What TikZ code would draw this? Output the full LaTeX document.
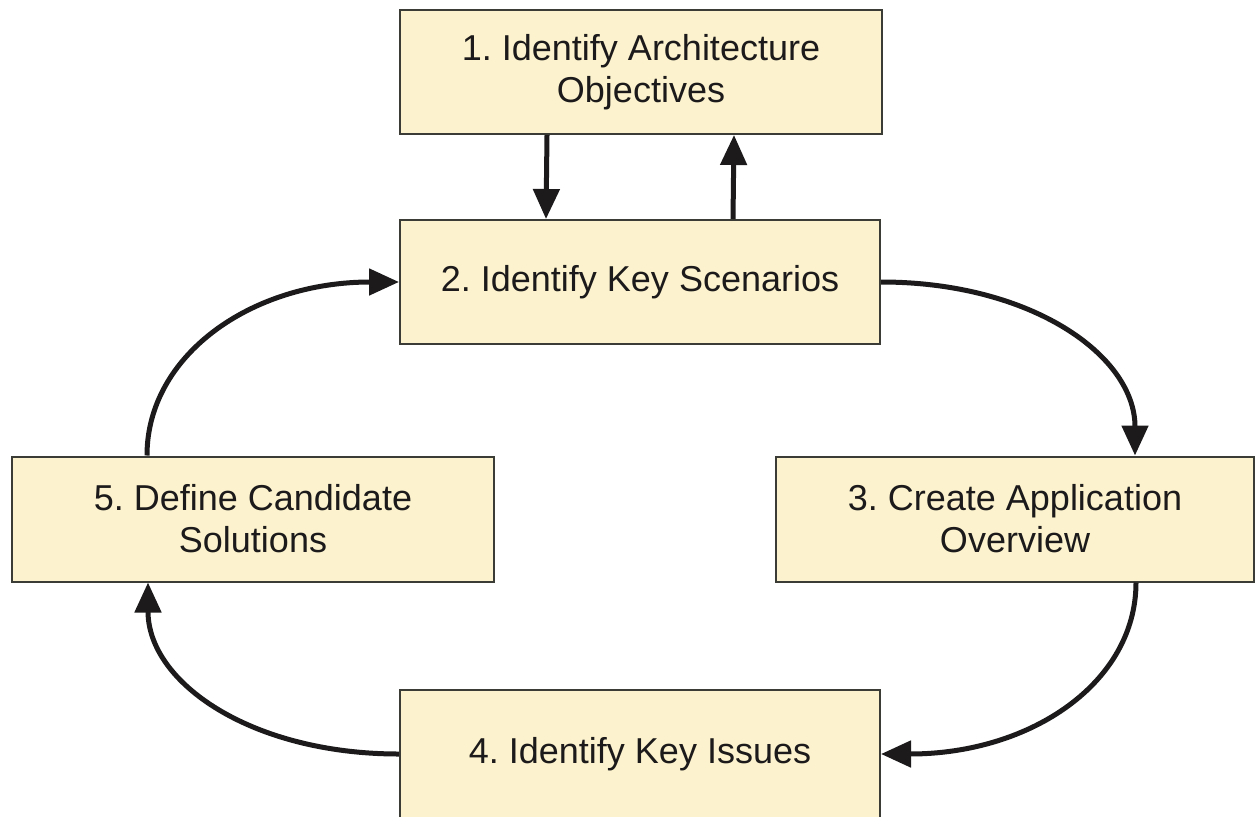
\documentclass[tikz,border=0pt]{standalone}
\usepackage{fontspec}
\setmainfont{Liberation Sans}
\usetikzlibrary{arrows.meta,calc}
\definecolor{boxfill}{RGB}{252,243,206}
\definecolor{boxline}{RGB}{60,60,55}
\definecolor{ink}{RGB}{28,26,26}
\frenchspacing
\begin{document}
\begin{tikzpicture}[x=1pt,y=-1pt,
  stagebox/.style={draw=boxline,line width=2pt,fill=boxfill,inner sep=0pt,
    align=center,text=ink,font=\fontsize{36}{42}\selectfont},
  flow/.style={draw=ink,line width=5pt,-{Triangle[width=26pt,length=30pt]}}]
\useasboundingbox (0,0) rectangle (1257,816);
\node[stagebox,minimum width=482pt,minimum height=124pt] (b1) at (641,72) {1. Identify Architecture\\Objectives};
\node[stagebox,minimum width=480pt,minimum height=124pt] (b2) at (640,282) {2. Identify Key Scenarios};
\node[stagebox,minimum width=478pt,minimum height=125pt] (b3) at (1015,519) {3. Create Application\\Overview};
\node[stagebox,minimum width=480pt,minimum height=128pt] (b4) at (640,754) {4. Identify Key Issues};
\node[stagebox,minimum width=482pt,minimum height=125pt] (b5) at (253,519) {5. Define Candidate\\Solutions};
\draw[flow] ([xshift=-94pt]b1.south) -- ([xshift=-94pt]b2.north);
\draw[flow] ([xshift=93pt]b2.north) -- ([xshift=93pt]b1.south);
\draw[flow] (b2.east) .. controls +(150,0) and +(0,-100) .. ([xshift=120pt]b3.north);
\draw[flow] ([xshift=121pt]b3.south) .. controls +(0,100) and +(150,0) .. (b4.east);
\draw[flow] (b4.west) .. controls +(-148,0) and +(0,100) .. ([xshift=-105pt]b5.south);
\draw[flow] ([xshift=-106pt]b5.north) .. controls +(0,-100) and +(-148,0) .. (b2.west);
\end{tikzpicture}
\end{document}
